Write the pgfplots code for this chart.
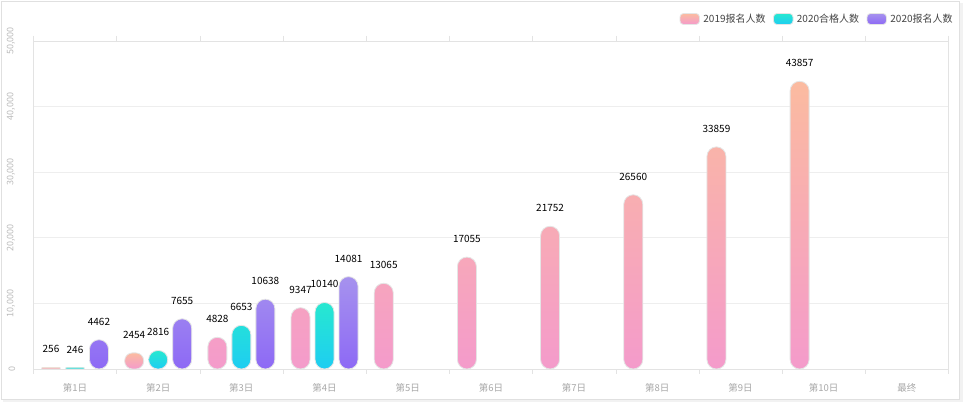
\documentclass[border=0pt]{standalone}
\usepackage{pgfplots}
\pgfplotsset{compat=1.18}
\usepackage{fontspec}
\setmainfont{Noto Sans CJK SC}
\definecolor{pkT}{HTML}{FBBBA0}
\definecolor{pkB}{HTML}{F49BCB}
\definecolor{cyT}{HTML}{27E8D0}
\definecolor{cyB}{HTML}{1ECDF2}
\definecolor{puT}{HTML}{A692EE}
\definecolor{puB}{HTML}{8D69F5}
\definecolor{gridc}{HTML}{EEEEEE}
\definecolor{axc}{HTML}{E3E3E3}
\definecolor{ylab}{HTML}{BBBBBB}
\definecolor{xlab}{HTML}{A8A8A8}
\definecolor{legtext}{HTML}{444444}
\begin{document}
\begin{tikzpicture}[x=1pt,y=1pt]
\useasboundingbox (0,0) rectangle (967,403);
\fill[black!5] (3,0.5) rectangle (962.5,400);
\fill[white,draw=black!12] (1,4) rectangle (959,402);
\begin{axis}[
  at={(33.4pt,34pt)}, anchor=south west,
  scale only axis, width=915pt, height=328pt,
  xmin=-0.5, xmax=10.5, ymin=0, ymax=50000,
  clip=false,
  axis line style={axc},
  ymajorgrids, grid style={gridc, line width=0.8pt},
  ytick={0,10000,20000,30000,40000,50000},
  scaled y ticks=false,
  xtick={0,1,2,3,4,5,6,7,8,9,10},
  xticklabels={第1日,第2日,第3日,第4日,第5日,第6日,第7日,第8日,第9日,第10日,最终},
  major tick length=0pt,
  tick style={axc},
  extra x ticks={-0.5,0.5,1.5,2.5,3.5,4.5,5.5,6.5,7.5,8.5,9.5,10.5},
  extra x tick labels={},
  extra x tick style={major tick length=5pt, tick align=outside, tick style={axc}},
  /pgf/number format/assume math mode=true,
  xticklabel style={font=\fontsize{9.5}{11}\selectfont, text=xlab, inner sep=0pt, anchor=north},
  xticklabel shift=14pt,
  yticklabel style={rotate=90, anchor=south, inner sep=0pt, font=\fontsize{9}{10}\selectfont, text=ylab, /pgf/number format/1000 sep={,}},
  yticklabel shift=18pt,
  bar width=19pt,
  nodes near coords,
  nodes near coords style={font=\fontsize{10}{11}\selectfont, text=black, anchor=south, inner sep=0pt, yshift=14pt, /pgf/number format/1000 sep={}},
  legend columns=3,
  legend style={at={(1,1)}, anchor=east, xshift=4.4pt, yshift=22pt, draw=none, fill=none, inner sep=0pt,
    font=\fontsize{10}{11}\selectfont, text=legtext, nodes={inner sep=0pt},
    /tikz/every odd column/.append style={column sep=3.5pt},
    /tikz/every even column/.append style={column sep=7.5pt}},
]
% 2019 report
\addplot[ybar, bar shift=-24pt, top color=pkT, bottom color=pkB, draw=black!10, line width=0.8pt, rounded corners=9.5pt,
  every node near coord/.append style={xshift=-24pt},
  legend image code/.code={\shade[top color=pkT,bottom color=pkB,rounded corners=3.5pt] (0pt,-5.5pt) rectangle (19.5pt,5.5pt);}]
  coordinates {(2,4828) (3,9347) (4,13065) (5,17055) (6,21752) (7,26560) (8,33859) (9,43857)};
\addlegendentry{2019报名人数}
% 2020 qualified
\addplot[ybar, bar shift=0pt, top color=cyT, bottom color=cyB, draw=black!10, line width=0.8pt, rounded corners=9.5pt,
  legend image code/.code={\shade[top color=cyT,bottom color=cyB,rounded corners=3.5pt] (0pt,-5.5pt) rectangle (19.5pt,5.5pt);}]
  coordinates {(2,6653) (3,10140)};
\addlegendentry{2020合格人数}
% 2020 report
\addplot[ybar, bar shift=24pt, top color=puT, bottom color=puB, draw=black!10, line width=0.8pt, rounded corners=9.5pt,
  every node near coord/.append style={xshift=24pt},
  legend image code/.code={\shade[top color=puT,bottom color=puB,rounded corners=3.5pt] (0pt,-5.5pt) rectangle (19.5pt,5.5pt);}]
  coordinates {(0,4462) (1,7655) (2,10638) (3,14081)};
\addlegendentry{2020报名人数}
% small bars
\addplot[forget plot, ybar, bar shift=-24pt, top color=pkT, bottom color=pkB, draw=black!10, line width=0.5pt, rounded corners=0.8pt,
  every node near coord/.append style={xshift=-24pt}]
  coordinates {(0,256)};
\addplot[forget plot, ybar, bar shift=-24pt, top color=pkT, bottom color=pkB, draw=black!10, line width=0.8pt, rounded corners=7.8pt,
  every node near coord/.append style={xshift=-24pt}]
  coordinates {(1,2454)};
\addplot[forget plot, ybar, bar shift=0pt, top color=cyT, bottom color=cyB, draw=black!10, line width=0.5pt, rounded corners=0.8pt]
  coordinates {(0,246)};
\addplot[forget plot, ybar, bar shift=0pt, top color=cyT, bottom color=cyB, draw=black!10, line width=0.8pt, rounded corners=9pt]
  coordinates {(1,2816)};
\end{axis}
\end{tikzpicture}
\end{document}
